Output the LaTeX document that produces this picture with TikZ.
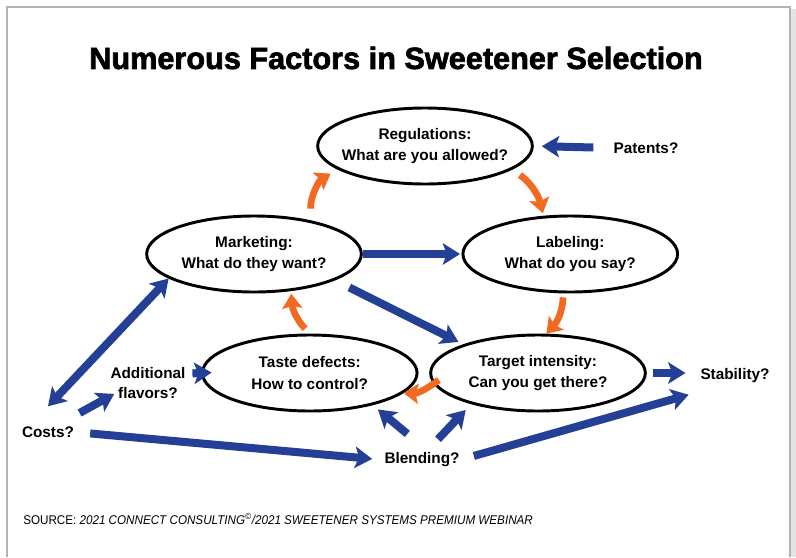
\documentclass[tikz,border=0pt]{standalone}
\usepackage{fontspec}
\setmainfont{Liberation Sans}
\newfontfamily\titlefont[FakeBold=2.2]{Liberation Sans Bold}
\newfontfamily\notefont[FakeStretch=0.92]{Liberation Sans}
\usetikzlibrary{arrows.meta,positioning,shapes.geometric,calc}
\definecolor{ArrowBlue}{HTML}{233F96}
\definecolor{LoopOrange}{HTML}{F26A21}
\definecolor{FrameGray}{HTML}{B3B3B3}

\begin{document}
\begin{tikzpicture}[
    x=0.75pt, y=-0.75pt,
    font=\fontsize{11.5}{16}\selectfont\bfseries,
    % the five factors sit in flat ellipses of one size
    factor/.style={ellipse, draw=black, line width=2.2pt, minimum width=161pt, minimum height=57pt, inner xsep=-6pt, inner ysep=0pt, align=center},
    question/.style={inner sep=0pt, align=center},
    bluearr/.style={-{Stealth[length=13pt, width=16pt, inset=3pt]}, line width=6pt, draw=ArrowBlue},
    bluedbl/.style={{Stealth[length=13pt, width=16pt, inset=3pt]}-{Stealth[length=13pt, width=16pt, inset=3pt]}, line width=6pt, draw=ArrowBlue},
    cyclearr/.style={-{Stealth[length=11pt, width=15pt, inset=2pt]}, line width=5pt, draw=LoopOrange, bend left=20}
]
\useasboundingbox (0,0) rectangle (796,557);

% page frame with a soft shadow on the right
\fill[FrameGray!35] (791,9) rectangle (796,557);
\draw[FrameGray, line width=1.2pt] (7,557) |- (790,7) -- (790,557);

\node[font=\titlefont\fontsize{23}{26}\selectfont] (title) at (396,58) {Numerous Factors in Sweetener Selection};

% ring of factors
\node[factor] (reg) at (425,146) {Regulations:\\What are you allowed?};
\node[factor] (mkt) at (254,254) {Marketing:\\What do they want?};
\node[factor, right=74pt of mkt] (lab) {Labeling:\\What do you say?};
\node[factor] (tgt) at (538,373) {Target intensity:\\Can you get there?};
\node[factor, left=8pt of tgt] (taste) {Taste defects:\\How to control?};

% open questions around the ring
\node[question] (patents) at (646,148) {Patents?};
\node[question, font=\fontsize{11.5}{15.5}\selectfont\bfseries] (flavors) at (148,383) {Additional\\flavors?};
\node[question] (costs) at (48,432) {Costs?};
\node[question] (blend) at (422,460) {Blending?};
\node[question] (stab) at (735,376) {Stability?};

% blue links
\draw[bluearr, shorten <=15pt, shorten >=6pt] (patents.west) -- (reg.east);
\draw[bluearr, shorten >=1pt] (mkt.east) -- (lab.west);
\draw[bluearr, shorten <=12pt, shorten >=4pt] (mkt.-18) -- (tgt.159);
\draw[bluedbl] ([yshift=15pt]costs.north) -- (mkt.196);
\draw[bluearr] ([xshift=4pt,yshift=10pt]costs.north east) -- ([xshift=3pt,yshift=4pt]flavors.south west);
\draw[bluearr, shorten <=5pt, shorten >=-8pt] ([yshift=7pt]flavors.east) -- (taste.west);
\draw[bluearr, shorten <=12pt, shorten >=9pt] (costs.east) -- (blend.west);
\draw[bluearr, shorten >=5pt] ([xshift=-11pt,yshift=14pt]blend.north) -- (taste.-27);
\draw[bluearr, shorten >=6pt] ([xshift=12pt,yshift=10pt]blend.north) -- (tgt.205);
\draw[bluearr, shorten <=11pt, shorten >=9pt] (blend.east) -- ([yshift=-6pt]stab.south west);
\draw[bluearr, shorten <=5pt, shorten >=11pt] (tgt.east) -- (tgt.east -| stab.west);

% orange cycle
\draw[cyclearr, bend left=32, shorten <=9pt, shorten >=6pt] (mkt.30) to (reg.195);
\draw[cyclearr, shorten <=7pt, shorten >=2pt] (reg.-15) to (lab.125);
\draw[cyclearr, shorten <=3pt] (lab.-100) to (tgt.78);
\draw[cyclearr, shorten <=-5pt] (tgt.186) to (taste.-12);
\draw[cyclearr, shorten <=5pt, shorten >=2pt] (taste.90) to (mkt.-45);

\node[question, anchor=west, font=\notefont\mdseries\fontsize{9.5}{11}\selectfont] (source) at (23,519) {SOURCE: \textit{2021 CONNECT CONSULTING\textsuperscript{\copyright}/2021 SWEETENER SYSTEMS PREMIUM WEBINAR}};
\end{tikzpicture}
\end{document}
